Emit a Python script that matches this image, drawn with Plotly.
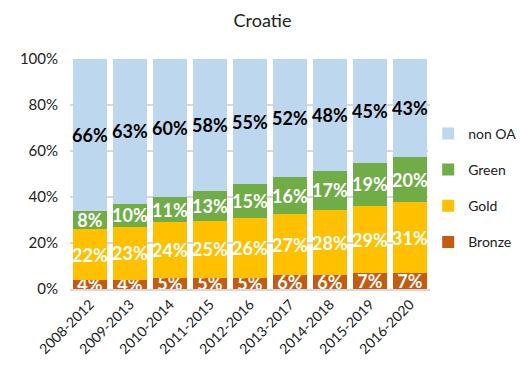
import plotly.graph_objects as go

categories = ["2008-2012", "2009-2013", "2010-2014", "2011-2015", "2012-2016",
              "2013-2017", "2014-2018", "2015-2019", "2016-2020"]
bronze = [4, 4, 5, 5, 5, 6, 6, 7, 7]
gold = [22, 23, 24, 25, 26, 27, 28, 29, 31]
green = [8, 10, 11, 13, 15, 16, 17, 19, 20]
non_oa = [66, 63, 60, 58, 55, 52, 48, 45, 43]
y_ticks = [0, 20, 40, 60, 80, 100]
y_tick_labels = ["0%", "20%", "40%", "60%", "80%", "100%"]

series = [
    ("Bronze", bronze, "#C55A11", "white", 4),
    ("Gold", gold, "#FFC000", "white", 3),
    ("Green", green, "#70AD47", "white", 2),
    ("non OA", non_oa, "#BDD7EE", "black", 1),
]

FONT = "Lato, Open Sans, sans-serif"
fig = go.Figure()
for name, vals, color, tcol, rank in series:
    fig.add_trace(go.Bar(
        x=categories, y=vals, name=name, marker_color=color,
        marker_line_width=0,
        text=[f"{v}%" for v in vals], textposition="inside",
        insidetextanchor="middle", constraintext="none",
        textangle=0,
        textfont=dict(family=FONT, size=18, color=tcol, weight="bold"),
        legendrank=rank, legendgroup=name,
    ))

fig.update_layout(
    barmode="stack", barnorm="percent", bargap=0.17,
    width=509, height=356,
    margin=dict(l=62, r=87, t=51, b=75, autoexpand=False),
    paper_bgcolor="white", plot_bgcolor="white",
    title=dict(text="Croatie", x=0.5, xanchor="center", y=0.965, yanchor="middle",
               font=dict(family=FONT, size=18, color="#222")),
    font=dict(family=FONT, size=14, color="#222"),
    legend=dict(x=0.995, xanchor="left", y=0.44, yanchor="middle",
                traceorder="grouped", tracegroupgap=15,
                font=dict(size=14, color="#222"), itemwidth=30),
)
fig.update_xaxes(tickangle=-45, showgrid=False, showline=True, linecolor="#D9D9D9",
                 linewidth=1.5, ticks="", tickfont=dict(size=14), automargin=False)
fig.update_yaxes(range=[0, 100], tickmode="array", tickvals=y_ticks, ticktext=y_tick_labels,
                 showgrid=True, gridcolor="#D9D9D9", gridwidth=1.5, zeroline=False,
                 tickfont=dict(size=15), ticks="outside", ticklen=8, tickcolor="white",
                 automargin=False)
fig.write_html("out.html")
